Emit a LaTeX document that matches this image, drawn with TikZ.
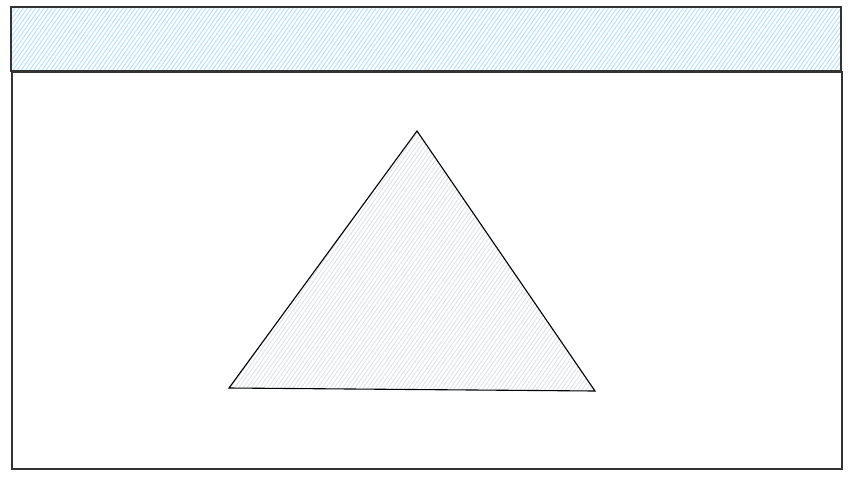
\documentclass[tikz,border=0pt]{standalone}
\usetikzlibrary{patterns.meta}
\definecolor{barblue}{HTML}{B8E0FF}
\definecolor{fillgray}{HTML}{DEE2E6}

\begin{document}
\begin{tikzpicture}[
  x=1pt, y=-1pt,
  frame/.style={
    draw=black!80,
    line width=1.2pt
  },
  titlebar/.style={
    frame,
    pattern={Lines[angle=55, distance=3.4pt, line width=1pt]},
    pattern color=barblue
  },
  placeholder/.style={
    draw=black,
    line width=1.1pt,
    line join=miter,
    pattern={Lines[angle=55, distance=3.4pt, line width=0.9pt]},
    pattern color=fillgray
  }
]
  \useasboundingbox (0,0) rectangle (854,480);

  % Window
  \draw [frame] (12,72) rectangle (842,469);
  \draw [titlebar] (11,7) rectangle (841,71);

  % Picture placeholder
  \coordinate (apex) at (417,131);
  \coordinate (left) at (229,388);
  \coordinate (right) at (595,391);
  \draw [placeholder] (apex) -- (right) -- (left) -- cycle;

\end{tikzpicture}
\end{document}
